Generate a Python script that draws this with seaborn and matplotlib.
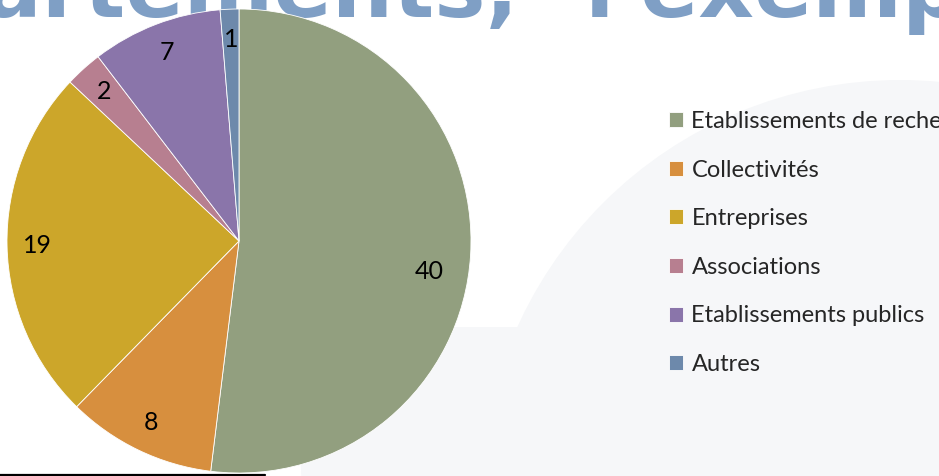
import matplotlib
matplotlib.use("Agg")
import numpy as np
import matplotlib.pyplot as plt
import seaborn as sns
from matplotlib.patches import Circle, FancyBboxPatch
from matplotlib.lines import Line2D

# ---- data ----
categories = ["Etablissements de recherche", "Collectivités", "Entreprises",
              "Associations", "Etablissements publics", "Autres"]
values = [40, 8, 19, 2, 7, 1]
colors = ["#929f7f", "#d78f3e", "#cca62a", "#b77f90", "#8a75aa", "#6d89ab"]
title_left = "Départements,"
title_right = "l'exemple"

sns.set_theme(style="white")
plt.rcParams["font.family"] = ["Lato", "DejaVu Sans"]

W, H, DPI = 939, 476, 100
fig = plt.figure(figsize=(W / DPI, H / DPI), dpi=DPI, facecolor="white")

def px(x, y):
    """pixel (from top-left) -> inches in figure dpi_scale_trans"""
    return x / DPI, (H - y) / DPI

bg = "#f6f7f9"
# light background shapes
fig.patches.append(Circle(px(900, 500), 420 / DPI, transform=fig.dpi_scale_trans,
                          facecolor=bg, edgecolor="none", zorder=-5))
x0, y0 = px(300, 600)
fig.patches.append(FancyBboxPatch((x0, y0), 8.0, (600 - 327) / DPI,
                                  boxstyle="round,pad=0,rounding_size=1.5",
                                  transform=fig.dpi_scale_trans,
                                  facecolor=bg, edgecolor="none", zorder=-5))
# bottom rule
fig.lines.append(Line2D([0, 2.65], [0.012, 0.012], transform=fig.dpi_scale_trans,
                        color="black", lw=1.6, zorder=-4))

# big cropped title
tcol = "#7f9fc5"
fig.text(518 / W, 1 - 17 / H, title_left, ha="right", va="baseline",
         fontsize=62, fontweight="bold", color=tcol, family="DejaVu Sans", zorder=-3)
fig.text(585 / W, 1 - 17 / H, title_right, ha="left", va="baseline",
         fontsize=62, fontweight="bold", color=tcol, family="DejaVu Sans", zorder=-3)

# pie axes: center (239,241), radius 232 px
r = 232
ax = fig.add_axes([(239 - r) / W, (H - 241 - r) / H, 2 * r / W, 2 * r / H])
ax.patch.set_visible(False)
total = sum(values)
wedges, texts, autotexts = ax.pie(
    values, colors=colors, startangle=90, counterclock=False, radius=1,
    autopct=lambda p: f"{round(p * total / 100):d}", pctdistance=0.87,
    wedgeprops=dict(edgecolor="white", linewidth=0.6),
    textprops=dict(fontsize=18, color="black"))
# the large slice's label sits a little lower and further in (Excel best-fit)
w0 = wedges[0]
ang = np.deg2rad((w0.theta1 + w0.theta2) / 2 - 5.5)
autotexts[0].set_position((0.83 * np.cos(ang), 0.83 * np.sin(ang)))
ax.set_xlim(-1, 1)
ax.set_ylim(-1, 1)
ax.set_aspect("equal")
ax.axis("off")

fig.legend(wedges, categories, loc="upper left",
           bbox_to_anchor=(669 / W, 1 - 111 / H), frameon=False,
           fontsize=17, handlelength=0.6, handleheight=0.6,
           handletextpad=0.35, labelspacing=1.17, borderpad=0, borderaxespad=0)

fig.savefig("out.png", dpi=DPI, facecolor="white")
